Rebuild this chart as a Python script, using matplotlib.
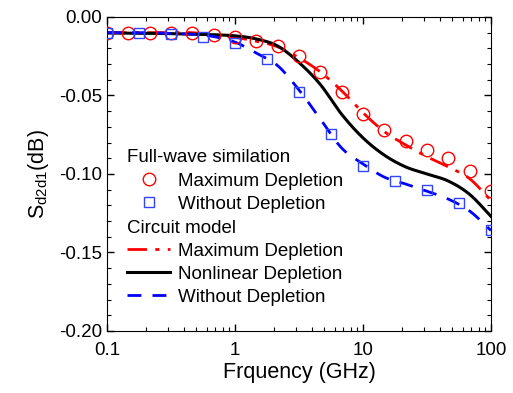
import numpy as np
import matplotlib
matplotlib.use("Agg")
from matplotlib import pyplot as plt
from matplotlib.ticker import MultipleLocator, FormatStrFormatter, FixedLocator, FixedFormatter, LogLocator, NullFormatter

plt.rcParams['font.family'] = ['Liberation Sans', 'DejaVu Sans']
plt.rcParams['mathtext.fontset'] = 'custom'
plt.rcParams['mathtext.rm'] = 'Liberation Sans'
plt.rcParams['mathtext.it'] = 'Liberation Sans:italic'

# full-wave simulation, maximum depletion (1/6 decade steps from 0.1 GHz)
freq_circ = 0.1 * 10 ** (np.arange(19) / 6)
sim_max = [-0.010, -0.010, -0.010, -0.010, -0.010, -0.0115, -0.0127, -0.015,
           -0.0185, -0.025, -0.035, -0.048, -0.062, -0.072, -0.079, -0.085,
           -0.090, -0.098, -0.111]

# full-wave simulation, without depletion (1/4 decade steps)
freq_sq = 0.1 * 10 ** (np.arange(13) / 4)
sim_without = [-0.010, -0.010, -0.011, -0.0127, -0.0166, -0.0267, -0.0478,
               -0.0745, -0.095, -0.1045, -0.110, -0.1185, -0.1357]

# circuit model curves (1/6 decade steps)
freq_line = 0.1 * 10 ** (np.arange(19) / 6)
model_max = [-0.010, -0.010, -0.010, -0.010, -0.010, -0.0115, -0.013, -0.0155,
             -0.019, -0.026, -0.035, -0.047, -0.061, -0.073, -0.0815, -0.089,
             -0.0955, -0.103, -0.117]
model_nonlin = [-0.0102, -0.0103, -0.0104, -0.0106, -0.011, -0.0113, -0.012,
                -0.014, -0.0185, -0.029, -0.043, -0.062, -0.077, -0.088,
                -0.0955, -0.100, -0.1045, -0.113, -0.127]
model_without = [-0.010, -0.010, -0.010, -0.0105, -0.011, -0.0125, -0.016,
                 -0.023, -0.031, -0.0465, -0.065, -0.0835, -0.0936, -0.102,
                 -0.1064, -0.111, -0.116, -0.1236, -0.136]

x_ticks = [0.1, 1, 10, 100]
x_labels = ['0.1', '1', '10', '100']


def smooth(f, v, n=20):
    # catmull-rom through the read points, in log frequency
    t = np.log10(f)
    v = np.asarray(v)
    m = np.gradient(v, t)
    xs, ys = [], []
    for i in range(len(t) - 1):
        h = t[i + 1] - t[i]
        s = np.linspace(0, 1, n, endpoint=False)
        h00 = 2 * s**3 - 3 * s**2 + 1
        h10 = s**3 - 2 * s**2 + s
        h01 = -2 * s**3 + 3 * s**2
        h11 = s**3 - s**2
        xs.append(t[i] + s * h)
        ys.append(h00 * v[i] + h10 * h * m[i] + h01 * v[i + 1] + h11 * h * m[i + 1])
    xs.append([t[-1]])
    ys.append([v[-1]])
    return 10 ** np.concatenate(xs), np.concatenate(ys)


fig = plt.figure(figsize=(5.13, 3.93), dpi=100)
ax = fig.add_axes([0.2086, 0.1578, 0.7485, 0.799])

l_max, = ax.plot(*smooth(freq_line, model_max), color='red', lw=2,
                 dashes=(7, 3, 1.5, 3), zorder=2)
l_nl, = ax.plot(*smooth(freq_line, model_nonlin), color='black', lw=2.2, zorder=2)
l_wo, = ax.plot(*smooth(freq_line, model_without), color='blue', lw=2,
                dashes=(5, 4), zorder=2)

p_max, = ax.plot(freq_circ, sim_max, 'o', ms=9, mfc='none', mec='red', mew=1, zorder=3)
p_wo, = ax.plot(freq_sq, sim_without, 's', ms=7.5, mfc='none', mec='#3344ff', mew=1, zorder=3)

ax.set_xscale('log')
ax.set_xlim(0.1, 100)
ax.set_ylim(-0.20, 0.0)
ax.xaxis.set_major_locator(FixedLocator(x_ticks))
ax.xaxis.set_major_formatter(FixedFormatter(x_labels))
ax.xaxis.set_minor_locator(LogLocator(base=10, subs=np.arange(2, 10)))
ax.xaxis.set_minor_formatter(NullFormatter())
ax.yaxis.set_major_locator(MultipleLocator(0.05))
ax.yaxis.set_minor_locator(MultipleLocator(0.01))
ax.yaxis.set_major_formatter(FormatStrFormatter('%.2f'))
ax.tick_params(which='both', direction='in', top=True, right=True, labelsize=13.5)
ax.tick_params(which='major', length=5, width=1)
ax.tick_params(which='minor', length=3, width=0.8)
ax.tick_params(axis='x', pad=8)

ax.set_xlabel('Frquency (GHz)', fontsize=15.5, labelpad=2)
ax.set_ylabel(r'S$_{\mathrm{d2d1}}$(dB)', fontsize=15.5, labelpad=6)

leg1 = ax.legend([p_max, p_wo], ['Maximum Depletion', 'Without Depletion'],
                 title='Full-wave similation', alignment='left',
                 loc='upper left', bbox_to_anchor=(0.052, 0.578), frameon=False,
                 fontsize=13.5, title_fontsize=13.5, borderpad=0, borderaxespad=0,
                 handlelength=2.3, handletextpad=0.4, labelspacing=0.32)
ax.add_artist(leg1)
ax.legend([l_max, l_nl, l_wo], ['Maximum Depletion', 'Nonlinear Depletion', 'Without Depletion'],
          title='Circuit model', alignment='left',
          loc='upper left', bbox_to_anchor=(0.052, 0.355), frameon=False,
          fontsize=13.5, title_fontsize=13.5, borderpad=0, borderaxespad=0,
          handlelength=2.3, handletextpad=0.4, labelspacing=0.32)

fig.savefig('out.png', dpi=100)
